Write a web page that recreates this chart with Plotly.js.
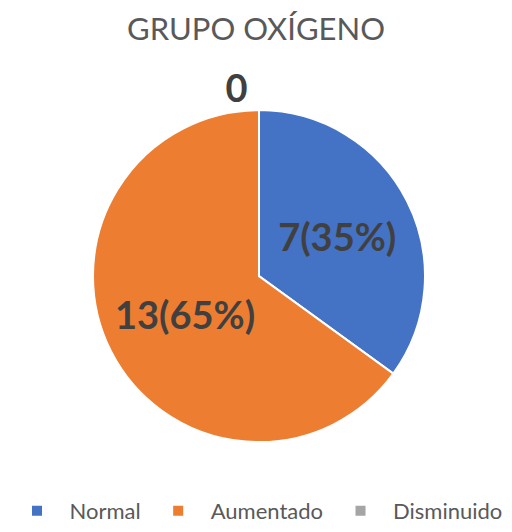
<!DOCTYPE html>
<html>
<head>
<meta charset="utf-8">
<script src="https://cdn.plot.ly/plotly-3.0.1.min.js"></script>
<style>html,body{margin:0;padding:0;background:#fff;}#chart{width:512px;height:532px;}</style>
</head>
<body>
<div id="chart"></div>
<script>
const categories = ["Normal", "Aumentado", "Disminuido"];
const values = [7, 13, 0];
const colors = ["#4472C4", "#ED7D31", "#A5A5A5"];
const titleText = "GRUPO OXÍGENO";

const trace = {
  type: "pie",
  labels: categories,
  values: values,
  sort: false,
  direction: "clockwise",
  rotation: 0,
  marker: { colors: colors, line: { color: "#ffffff", width: 2 } },
  texttemplate: ["%{value}(%{percent:.0%})", "%{value}(%{percent:.0%})", "%{value}"],
  textposition: ["inside", "inside", "outside"],
  insidetextorientation: "horizontal",
  textfont: { family: "Lato, 'Open Sans', sans-serif", size: 38, color: "#404040", weight: "bold" },
  hoverinfo: "label+value+percent",
  domain: { x: [0.1816, 0.8301], y: [0.169, 0.793] },
  showlegend: true
};

const layout = {
  width: 512,
  height: 532,
  margin: { l: 0, r: 0, t: 0, b: 0 },
  paper_bgcolor: "#ffffff",
  title: {
    text: titleText,
    x: 0.5, xanchor: "center",
    y: 0.945, yanchor: "middle",
    font: { family: "Lato, 'Open Sans', sans-serif", size: 31, color: "#595959" }
  },
  legend: {
    orientation: "h",
    x: 0.5, xanchor: "center",
    y: 0.0, yanchor: "bottom",
    itemwidth: 55,
    font: { family: "Lato, 'Open Sans', sans-serif", size: 22, color: "#595959" }
  }
};

Plotly.newPlot("chart", [trace], layout, { displayModeBar: false, staticPlot: true });
</script>
</body>
</html>
